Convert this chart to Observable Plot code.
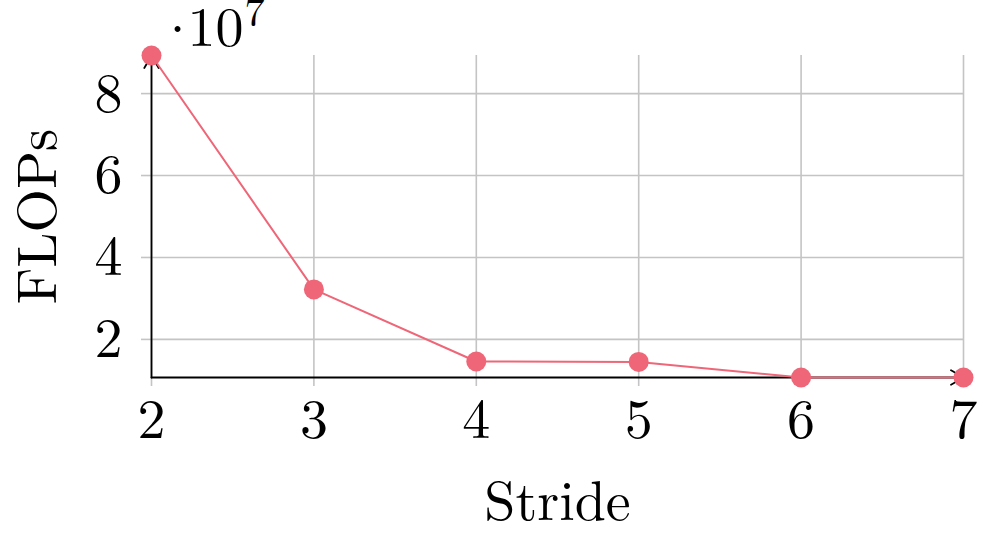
<!DOCTYPE html>
<html><head><meta charset="utf-8">
<script src="https://cdn.jsdelivr.net/npm/d3@7"></script>
<script src="https://cdn.jsdelivr.net/npm/@observablehq/plot@0.6"></script>
<style>
body{margin:0;background:#fff;}
svg{font-family:"Latin Modern Roman","Liberation Serif",serif;}
</style></head>
<body><div id="chart"></div>
<script>
const strides = [2, 3, 4, 5, 6, 7];
const flops = [8.93e7, 3.22e7, 1.46e7, 1.45e7, 1.07e7, 1.07e7];
const xTicks = [2, 3, 4, 5, 6, 7];
const yTicks = [2e7, 4e7, 6e7, 8e7];
const xLabel = "Stride";
const yLabel = "FLOPs";

const data = strides.map((s, i) => ({stride: s, flops: flops[i]}));
const xDom = [d3.min(strides), d3.max(strides)];
const yDom = [d3.min(flops), d3.max(flops)];
const color = "#EE6677";
const grid = "#c4c4c4";

const chart = Plot.plot({
  width: 996, height: 538,
  marginLeft: 151, marginRight: 33, marginTop: 55, marginBottom: 161,
  style: {fontFamily: '"Latin Modern Roman","Liberation Serif",serif', background: "#fff"},
  x: {domain: xDom},
  y: {domain: yDom},
  marks: [
    Plot.gridX(xTicks, {stroke: grid, strokeOpacity: 1, strokeWidth: 1.6}),
    Plot.gridY(yTicks, {stroke: grid, strokeOpacity: 1, strokeWidth: 1.6, x1: xDom[0], x2: xDom[1]}),
    Plot.axisX(xTicks, {tickSize: 9, tickPadding: 12, stroke: grid, strokeWidth: 1.6, fontSize: 56, label: null, tickFormat: d => String(d)}),
    Plot.axisY(yTicks, {tickSize: 10, tickPadding: 19, stroke: grid, strokeWidth: 1.6, fontSize: 56, label: null, tickFormat: d => String(d / 1e7)}),
    Plot.arrow([0], {x1: xDom[0], y1: yDom[0], x2: xDom[0], y2: yDom[1], stroke: "black", strokeWidth: 1.8, headLength: 12, bend: 0}),
    Plot.arrow([0], {x1: xDom[0], y1: yDom[0], x2: xDom[1], y2: yDom[0], stroke: "black", strokeWidth: 1.8, headLength: 12, bend: 0}),
    Plot.line(data, {x: "stride", y: "flops", stroke: color, strokeWidth: 2}),
    Plot.dot(data, {x: "stride", y: "flops", r: 10, fill: color}),
    Plot.text([xLabel], {frameAnchor: "bottom", dy: 125, fontSize: 56, lineAnchor: "middle", text: d => d, fill: "black"}),
    Plot.text([yLabel], {frameAnchor: "left", dx: -113, rotate: -90, textAnchor: "middle", lineAnchor: "middle", fontSize: 56, text: d => d, fill: "black"}),
    Plot.text(["·"], {frameAnchor: "top-left", dx: 26, dy: -25, fontSize: 56, textAnchor: "middle", lineAnchor: "middle", text: d => d, fill: "black"}),
    Plot.text(["10"], {frameAnchor: "top-left", dx: 36, dy: -27, fontSize: 56, textAnchor: "start", lineAnchor: "middle", text: d => d, fill: "black"}),
    Plot.text(["7"], {frameAnchor: "top-left", dx: 93, dy: -42, fontSize: 40, textAnchor: "start", lineAnchor: "middle", text: d => d, fill: "black"})
  ]
});
document.getElementById("chart").appendChild(chart);
</script>
</body></html>
